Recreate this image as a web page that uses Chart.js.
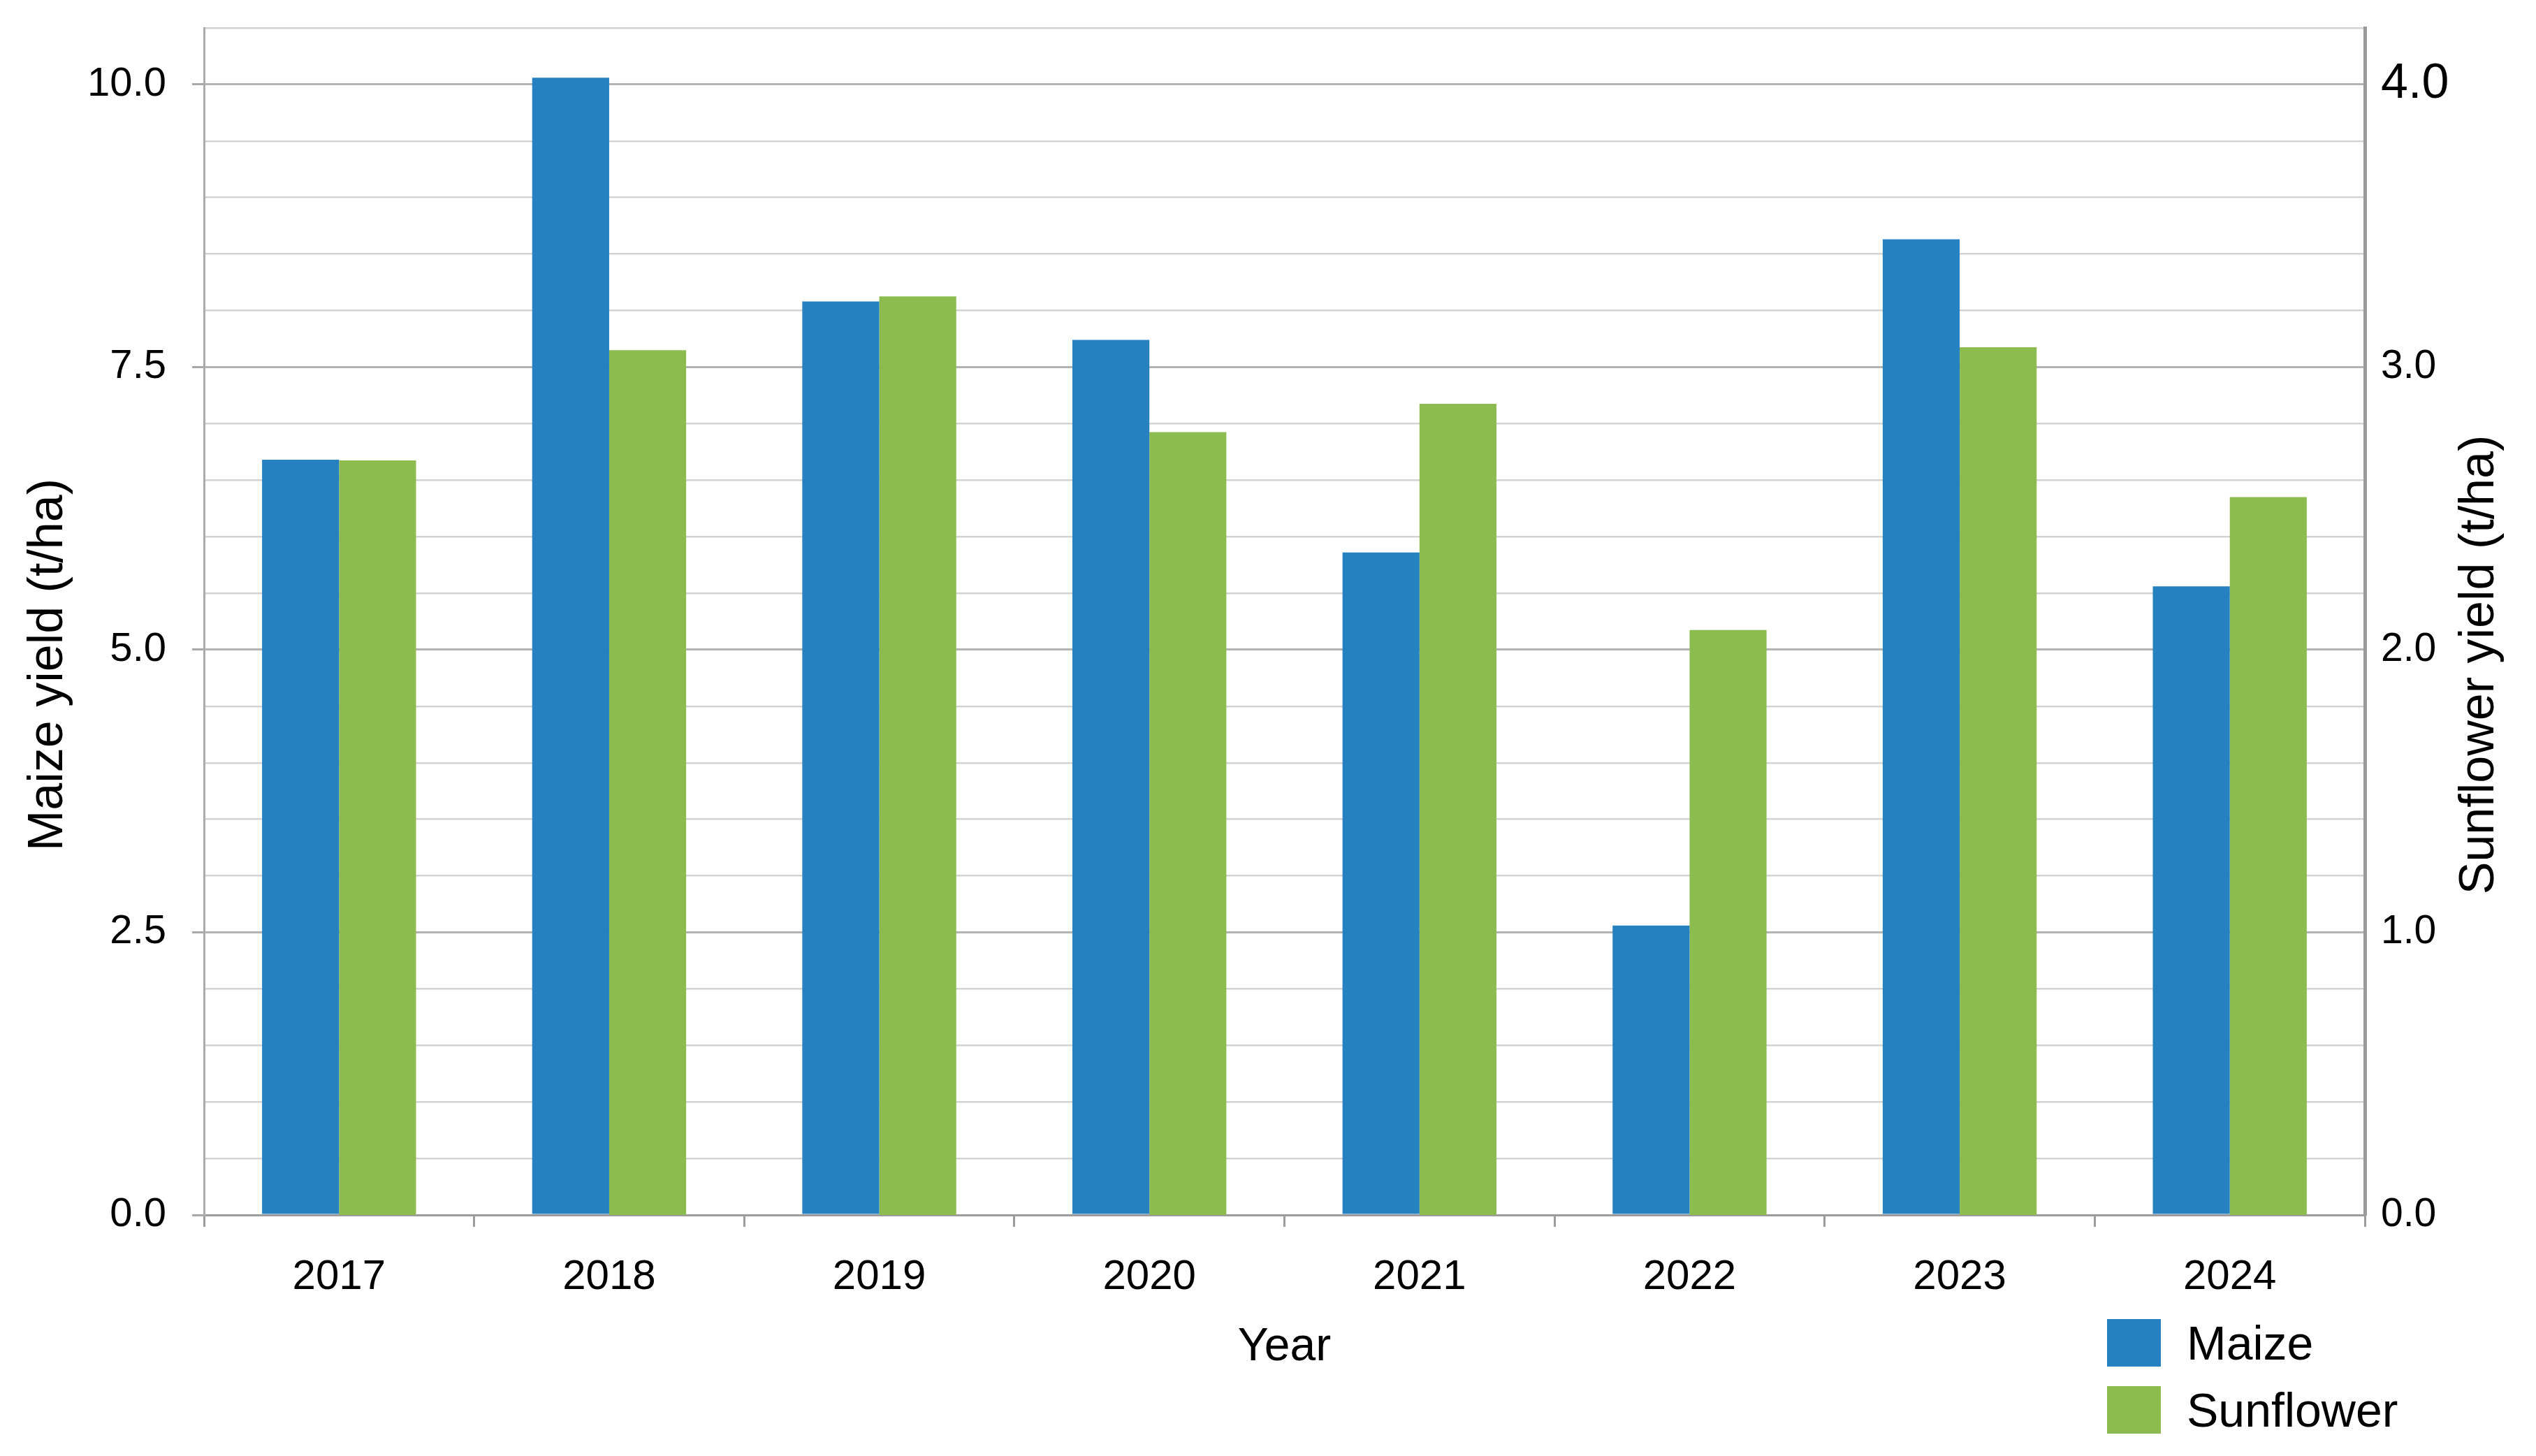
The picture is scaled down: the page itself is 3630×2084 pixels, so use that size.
<!DOCTYPE html>
<html>
<head>
<meta charset="utf-8">
<title>Maize and sunflower yield</title>
<script src="https://cdn.jsdelivr.net/npm/chart.js"></script>
<style>
  html, body { margin: 0; padding: 0; background: #fff; }
  #wrap { position: relative; width: 3630px; height: 2084px; }
  #legend { position: absolute; left: 3016px; top: 1874px; font-family: "Liberation Sans", Arial, sans-serif; }
  .lg-row { display: flex; align-items: center; height: 96px; }
  .lg-box { width: 77px; height: 68px; margin-right: 37px; }
  .lg-text { font-size: 68px; line-height: 1; color: #000; }
</style>
</head>
<body>
<div id="wrap">
  <canvas id="yieldChart"></canvas>
  <div id="legend"></div>
</div>
<script>
// values
const years = ['2017', '2018', '2019', '2020', '2021', '2022', '2023', '2024'];
const maizeYield = [6.68, 10.06, 8.08, 7.74, 5.86, 2.56, 8.63, 5.56];      // t/ha, left axis
const sunflowerYield = [2.67, 3.06, 3.25, 2.77, 2.87, 2.07, 3.07, 2.54];   // t/ha, right axis

const leftTitle = 'Maize yield (t/ha)';
const rightTitle = 'Sunflower yield (t/ha)';
const xTitle = 'Year';

const FONT = '"Liberation Sans", Arial, sans-serif';
const BLUE = '#2581C0';
const GREEN = '#8CBC4F';

// draws both y titles reading bottom-to-top, as in the reference
const axisTitles = {
  id: 'axisTitles',
  afterDraw(chart) {
    const { ctx, chartArea, scales } = chart;
    const cy = (chartArea.top + chartArea.bottom) / 2 + 62;
    const items = [
      [scales.y.left + 70, leftTitle],
      [scales.y2.right - 80, rightTitle]
    ];
    ctx.save();
    ctx.font = '70px ' + FONT;
    ctx.fillStyle = '#000';
    ctx.textAlign = 'center';
    ctx.textBaseline = 'middle';
    items.forEach(([x, text]) => {
      ctx.save();
      ctx.translate(x, cy);
      ctx.rotate(-Math.PI / 2);
      ctx.fillText(text, 0, 0);
      ctx.restore();
    });
    ctx.restore();
  }
};

const isMajor = v => Math.abs(v / 2.5 - Math.round(v / 2.5)) < 1e-6;

// fixed axis sizes so the plot area lands where it is in the reference
function fixSize(prop, size) {
  return scale => {
    scale[prop] = size;
    scale.paddingTop = 0;
    scale.paddingBottom = 0;
    scale.paddingLeft = 0;
    scale.paddingRight = 0;
  };
}

const chart = new Chart(document.getElementById('yieldChart'), {
  type: 'bar',
  data: {
    labels: years,
    datasets: [
      { label: 'Maize', data: maizeYield, backgroundColor: BLUE, yAxisID: 'y',
        categoryPercentage: 0.57, barPercentage: 1.0 },
      { label: 'Sunflower', data: sunflowerYield, backgroundColor: GREEN, yAxisID: 'y2',
        categoryPercentage: 0.57, barPercentage: 1.0 }
    ]
  },
  options: {
    responsive: true,
    maintainAspectRatio: false,
    animation: false,
    layout: { padding: { top: 40, left: 0, right: 0, bottom: 0 } },
    plugins: {
      legend: { display: false },
      tooltip: { enabled: false }
    },
    scales: {
      x: {
        offset: true,
        grid: { display: true, drawOnChartArea: false, drawTicks: true, tickLength: 17,
                color: '#9c9c9c', lineWidth: 3 },
        border: { display: true, color: '#9c9c9c', width: 3 },
        ticks: { color: '#000', padding: 36, font: { family: FONT, size: 60 } },
        title: { display: true, text: xTitle, color: '#000',
                 font: { family: FONT, size: 66 }, padding: { top: 0, bottom: 116 } },
        afterFit: fixSize('height', 345)
      },
      y: {
        position: 'left',
        min: 0,
        max: 10.5,
        ticks: {
          stepSize: 0.5,
          autoSkip: false,
          color: '#000',
          padding: 37,
          font: { family: FONT, size: 58 },
          callback: v => isMajor(v) && v <= 10 ? v.toFixed(1) : ''
        },
        grid: {
          drawTicks: true,
          tickLength: 17,
          color: c => c.tick && isMajor(c.tick.value) && c.tick.value > 0 ? '#b3b3b3' : '#d3d3d3',
          lineWidth: c => c.tick && isMajor(c.tick.value) ? 3 : 2.5,
          tickColor: c => c.tick && isMajor(c.tick.value) ? '#a8a8a8' : 'rgba(0,0,0,0)',
          tickWidth: 3
        },
        border: { display: true, color: '#ababab', width: 3 },
        afterFit: fixSize('width', 292)
      },
      y2: {
        position: 'right',
        min: 0,
        max: 4.2,
        ticks: {
          stepSize: 1,
          autoSkip: false,
          color: '#000',
          padding: 23,
          font: c => ({ family: FONT, size: c.tick && c.tick.value === 4 ? 70 : 57 }),
          callback: v => Number.isInteger(v) ? v.toFixed(1) : ''
        },
        grid: { display: false, drawTicks: false, drawOnChartArea: false },
        border: { display: true, color: '#9a9a9a', width: 5 },
        afterFit: fixSize('width', 245)
      }
    }
  },
  plugins: [axisTitles]
});

// legend stacked at the bottom right, built from the datasets
const legendEl = document.getElementById('legend');
chart.data.datasets.forEach(ds => {
  const row = document.createElement('div');
  row.className = 'lg-row';
  const box = document.createElement('div');
  box.className = 'lg-box';
  box.style.background = ds.backgroundColor;
  const txt = document.createElement('span');
  txt.className = 'lg-text';
  txt.textContent = ds.label;
  row.appendChild(box);
  row.appendChild(txt);
  legendEl.appendChild(row);
});
</script>
</body>
</html>
